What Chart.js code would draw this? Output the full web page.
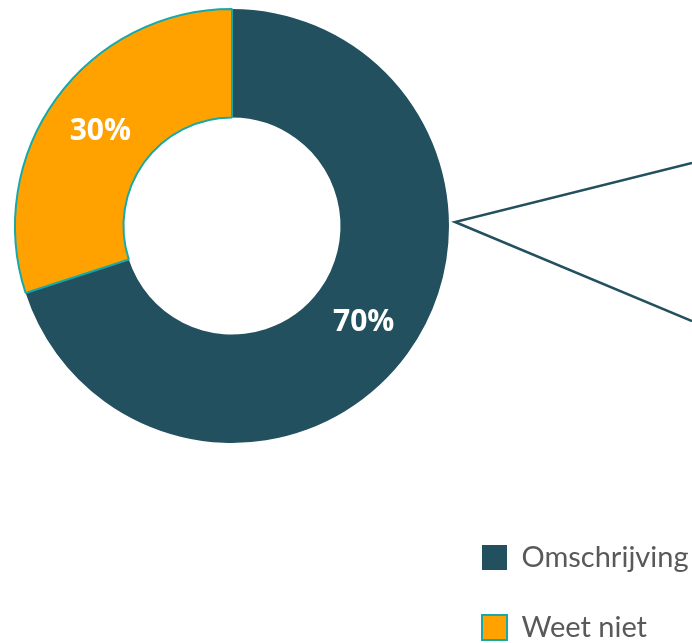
<!DOCTYPE html>
<html>
<head>
<meta charset="utf-8">
<script src="https://cdn.jsdelivr.net/npm/chart.js@4.4.1/dist/chart.umd.min.js"></script>
<style>
  html, body { margin: 0; padding: 0; background: #ffffff; overflow: hidden; }
  #wrap { width: 692px; height: 643px; position: relative; }
</style>
</head>
<body>
<div id="wrap"><canvas id="c"></canvas></div>
<script>
// ---- data ----
const categories = ['Omschrijving', 'Weet niet'];
const values = [70, 30];
const sliceColors = ['#23505F', '#FFA200'];
const sliceBorderColors = ['#23505F', '#17A9A9'];
const sliceBorderWidths = [0, 2];

// percentage labels at slice centroids
const pctLabels = {
  id: 'pctLabels',
  afterDatasetsDraw(chart) {
    const meta = chart.getDatasetMeta(0);
    const ctx = chart.ctx;
    ctx.save();
    ctx.fillStyle = '#ffffff';
    ctx.font = '700 30px "Open Sans", sans-serif';
    ctx.textAlign = 'center';
    ctx.textBaseline = 'middle';
    meta.data.forEach((arc, i) => {
      const p = arc.tooltipPosition();
      ctx.fillText(values[i] + '%', p.x, p.y + 1);
    });
    ctx.restore();
  }
};

// connector lines (pie-of-pie style) from the right edge of the ring
const connector = {
  id: 'connector',
  afterDatasetsDraw(chart) {
    const arc = chart.getDatasetMeta(0).data[0];
    const cx = arc.x, cy = arc.y, r = arc.outerRadius;
    const ax = cx + r + 6, ay = cy - 4;
    const ex = chart.width;
    const ctx = chart.ctx;
    ctx.save();
    ctx.strokeStyle = '#23505F';
    ctx.lineWidth = 2.5;
    ctx.lineJoin = 'miter';
    ctx.beginPath();
    ctx.moveTo(ex, cy - 63);
    ctx.lineTo(ax, ay);
    ctx.lineTo(ex, cy + 95);
    ctx.stroke();
    ctx.restore();
  }
};

// place the legend block at the lower right
const legendPlace = {
  id: 'legendPlace',
  afterLayout(chart) {
    const lg = chart.legend;
    lg.left = 441;
    lg.right = 760;
    lg.top = 502;
    lg.bottom = 720;
  }
};

new Chart(document.getElementById('c'), {
  type: 'doughnut',
  data: {
    labels: categories,
    datasets: [{
      data: values,
      backgroundColor: sliceColors,
      borderColor: sliceBorderColors,
      borderWidth: sliceBorderWidths,
      hoverOffset: 0,
      hoverBorderWidth: 0
    }]
  },
  options: {
    responsive: true,
    maintainAspectRatio: false,
    devicePixelRatio: 1,
    animation: false,
    cutout: '50%',
    layout: { padding: { left: 14, top: 8, right: 241, bottom: 199 } },
    plugins: {
      tooltip: { enabled: false },
      legend: {
        position: 'right',
        align: 'start',
        maxWidth: 1,
        labels: {
          boxWidth: 25,
          boxHeight: 25,
          padding: 41,
          color: '#595959',
          font: { family: 'Lato, "Open Sans", sans-serif', size: 29 }
        }
      }
    }
  },
  plugins: [pctLabels, connector, legendPlace]
});
</script>
</body>
</html>
